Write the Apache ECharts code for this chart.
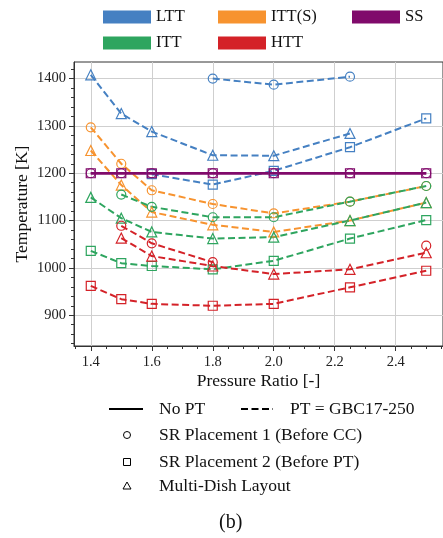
<!DOCTYPE html>
<html>
<head>
<meta charset="utf-8">
<script src="https://cdn.jsdelivr.net/npm/echarts@6/dist/echarts.min.js"></script>
<style>
  html, body { margin: 0; padding: 0; background: #fff; }
  #chart { width: 443px; height: 538px; }
</style>
</head>
<body>
<div id="chart"></div>
<script>
// pressure ratios
var pressureRatio = [1.4, 1.5, 1.6, 1.8, 2.0, 2.25, 2.5];

// temperatures [K], null = no point
var lttCircle = [null, null, null, 1400, 1387, 1404, null];
var lttSquare = [null, null, 1198, 1176, 1205, 1255, 1316];
var lttTriangle = [1408, 1326, 1288, 1238, 1237, 1284, null];
var ittsCircle = [1297, 1220, 1164, 1135, 1115, 1140, 1173];
var ittsTriangle = [1248, 1175, 1118, 1091, 1076, 1100, 1138];
var ssCircle = [1200, 1200, 1200, 1200, 1200, 1200, 1200];
var ssSquare = [1200, 1200, 1200, 1200, 1200, 1200, 1200];
var ittCircle = [null, 1155, 1129, 1107, 1107, 1140, 1173];
var ittSquare = [1036, 1010, 1004, 997, 1015, 1062, 1101];
var ittTriangle = [1149, 1105, 1076, 1062, 1065, 1100, 1138];
var httCircle = [null, 1089, 1052, 1012, null, null, 1047];
var httSquare = [962, 934, 924, 920, 924, 959, 994];
var httTriangle = [null, 1063, 1025, 1004, 987, 997, 1032];

// tick labels
var xTicks = [1.4, 1.6, 1.8, 2.0, 2.2, 2.4];
var yTicks = [900, 1000, 1100, 1200, 1300, 1400];

var colors = {
  LTT: '#4580c2',
  'ITT(S)': '#f7932f',
  SS: '#800a6b',
  ITT: '#2ea55f',
  HTT: '#d42228'
};
var serif = 'Liberation Serif';

function pairs(vals) {
  return pressureRatio.map(function (x, i) {
    return [x, vals[i] == null ? '-' : vals[i]];
  });
}

function makeSeries(name, vals, symbol, solid) {
  var c = colors[name];
  return {
    name: name,
    type: 'line',
    data: pairs(vals),
    symbol: symbol,
    symbolSize: symbol === 'triangle' ? 10 : 9,
    connectNulls: false,
    lineStyle: { color: c, width: solid ? 2.5 : 2, type: solid ? 'solid' : [7, 3.5] },
    itemStyle: { color: 'rgba(255,255,255,0)', borderColor: c, borderWidth: 1.2 },
    emphasis: { disabled: true }
  };
}

// minor tick positions
var xMinor = [];
for (var i = 27; i <= 51; i++) xMinor.push(+(i * 0.05).toFixed(2));
var yMinor = [];
for (var v = 840; v <= 1420; v += 20) yMinor.push(v);

var chart = echarts.init(document.getElementById('chart'));

function legendBlock(left, names) {
  return {
    left: left,
    top: 8.5,
    padding: 0,
    orient: 'vertical',
    icon: 'rect',
    itemWidth: 48,
    itemHeight: 13,
    itemGap: 9,
    selectedMode: false,
    textStyle: { fontFamily: serif, fontSize: 16.5, color: '#111' },
    data: names.map(function (n) {
      return { name: n, itemStyle: { color: colors[n], borderWidth: 0 } };
    })
  };
}

chart.setOption({
  animation: false,
  backgroundColor: '#fff',
  grid: {
    left: 74, top: 62, width: 380, height: 284,
    show: true, borderColor: '#333', borderWidth: 1, backgroundColor: 'transparent'
  },
  legend: [
    legendBlock(103, ['LTT', 'ITT']),
    legendBlock(218, ['ITT(S)', 'HTT']),
    legendBlock(352, ['SS'])
  ],
  xAxis: [{
    type: 'value', min: 1.345, max: 2.555,
    name: 'Pressure Ratio [-]', nameLocation: 'middle', nameGap: 26, nameMoveOverlap: false,
    nameTextStyle: { fontFamily: serif, fontSize: 17.5, color: '#111' },
    axisLine: { lineStyle: { color: '#333', width: 1 } },
    axisTick: { customValues: xTicks, length: 5, lineStyle: { color: '#333' } },
    axisLabel: {
      customValues: xTicks, fontFamily: serif, fontSize: 14.5, color: '#222', margin: 9,
      formatter: function (val) { return val.toFixed(1); }
    },
    splitLine: { show: true, lineStyle: { color: '#cfcfcf', width: 1 } }
  }, {
    type: 'value', min: 1.345, max: 2.555, position: 'bottom',
    axisLine: { show: false },
    axisTick: { customValues: xMinor, length: 3, lineStyle: { color: '#333' } },
    axisLabel: { show: false },
    splitLine: { show: false }
  }],
  yAxis: [{
    type: 'value', min: 835, max: 1435,
    name: 'Temperature [K]', nameLocation: 'middle', nameGap: 43, nameMoveOverlap: false,
    nameTextStyle: { fontFamily: serif, fontSize: 17.5, color: '#111' },
    axisLine: { show: true, lineStyle: { color: '#333', width: 1 } },
    axisTick: { show: true, customValues: yTicks, length: 5, lineStyle: { color: '#333' } },
    axisLabel: {
      customValues: yTicks, fontFamily: serif, fontSize: 14.5, color: '#222', margin: 8,
      formatter: function (val) { return String(val); }
    },
    splitLine: { show: true, lineStyle: { color: '#cfcfcf', width: 1 } }
  }, {
    type: 'value', min: 835, max: 1435, position: 'left',
    axisLine: { show: false },
    axisTick: { show: true, customValues: yMinor, length: 3, lineStyle: { color: '#333' } },
    axisLabel: { show: false },
    splitLine: { show: false }
  }],
  series: [
    makeSeries('LTT', lttCircle, 'circle'),
    makeSeries('LTT', lttSquare, 'rect'),
    makeSeries('LTT', lttTriangle, 'triangle'),
    makeSeries('ITT(S)', ittsCircle, 'circle'),
    makeSeries('ITT(S)', ittsTriangle, 'triangle'),
    makeSeries('ITT', ittCircle, 'circle'),
    makeSeries('ITT', ittSquare, 'rect'),
    makeSeries('ITT', ittTriangle, 'triangle'),
    makeSeries('HTT', httCircle, 'circle'),
    makeSeries('HTT', httSquare, 'rect'),
    makeSeries('HTT', httTriangle, 'triangle'),
    makeSeries('SS', ssSquare, 'rect', true),
    makeSeries('SS', ssCircle, 'circle', true)
  ],
  graphic: [
    // line-style key
    { type: 'line', shape: { x1: 109, y1: 409, x2: 143, y2: 409 }, style: { stroke: '#000', lineWidth: 2 } },
    { type: 'text', left: 159, top: 400, style: { text: 'No PT', font: '17.5px ' + serif, fill: '#111' } },
    { type: 'line', shape: { x1: 241, y1: 409, x2: 273, y2: 409 }, style: { stroke: '#000', lineWidth: 2, lineDash: [7, 3.5] } },
    { type: 'text', left: 290, top: 400, style: { text: 'PT = GBC17-250', font: '17.5px ' + serif, fill: '#111' } },
    // marker key
    { type: 'circle', shape: { cx: 127, cy: 435, r: 3.5 }, style: { fill: 'none', stroke: '#000', lineWidth: 1 } },
    { type: 'text', left: 159, top: 426, style: { text: 'SR Placement 1 (Before CC)', font: '17.5px ' + serif, fill: '#111' } },
    { type: 'rect', shape: { x: 123.5, y: 458.5, width: 7, height: 7 }, style: { fill: 'none', stroke: '#000', lineWidth: 1 } },
    { type: 'text', left: 159, top: 453, style: { text: 'SR Placement 2 (Before PT)', font: '17.5px ' + serif, fill: '#111' } },
    { type: 'polygon', shape: { points: [[127, 482], [131, 489], [123, 489]] }, style: { fill: 'none', stroke: '#000', lineWidth: 1 } },
    { type: 'text', left: 159, top: 477, style: { text: 'Multi-Dish Layout', font: '17.5px ' + serif, fill: '#111' } },
    { type: 'text', left: 219, top: 513, style: { text: '(b)', font: '20px ' + serif, fill: '#111' } }
  ]
});
</script>
</body>
</html>
